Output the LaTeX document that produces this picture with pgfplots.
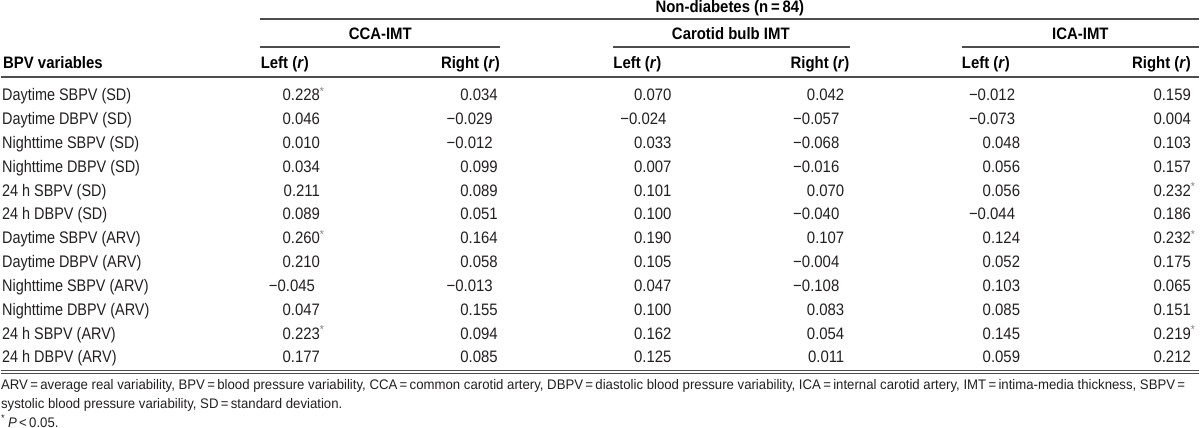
\documentclass[border=0pt]{standalone}
\usepackage{pgfplots}
\usepackage{pgfplotstable}
\pgfplotsset{compat=1.18}
\usepackage{fontspec}
\setmainfont{Liberation Sans}[FakeStretch=0.9]
\newfontfamily\fnfont{Liberation Sans}[FakeStretch=0.95]
\newfontfamily\lblfont{Liberation Sans}[FakeStretch=0.86]
\definecolor{txt}{HTML}{231F20}
\definecolor{rule}{HTML}{4D4D4D}
\newcommand\sigv[1]{#1\rlap{\textsuperscript{\color{gray}*}}}
\newcommand\negv[1]{−#1\kern2.5pt}

\pgfplotstableread{
label ccaL ccaR bulbL bulbR icaL icaR
{Daytime SBPV (SD)} \sigv{0.228} 0.034 0.070 0.042 \negv{0.012} 0.159
{Daytime DBPV (SD)} 0.046 \negv{0.029} \negv{0.024} \negv{0.057} \negv{0.073} 0.004
{Nighttime SBPV (SD)} 0.010 \negv{0.012} 0.033 \negv{0.068} 0.048 0.103
{Nighttime DBPV (SD)} 0.034 0.099 0.007 \negv{0.016} 0.056 0.157
{24 h SBPV (SD)} 0.211 0.089 0.101 0.070 0.056 \sigv{0.232}
{24 h DBPV (SD)} 0.089 0.051 0.100 \negv{0.040} \negv{0.044} 0.186
{Daytime SBPV (ARV)} \sigv{0.260} 0.164 0.190 0.107 0.124 \sigv{0.232}
{Daytime DBPV (ARV)} 0.210 0.058 0.105 \negv{0.004} 0.052 0.175
{Nighttime SBPV (ARV)} \negv{0.045} \negv{0.013} 0.047 \negv{0.108} 0.103 0.065
{Nighttime DBPV (ARV)} 0.047 0.155 0.100 0.083 0.085 0.151
{24 h SBPV (ARV)} \sigv{0.223} 0.094 0.162 0.054 0.145 \sigv{0.219}
{24 h DBPV (ARV)} 0.177 0.085 0.125 0.011 0.059 0.212
}\bpvtable

\pgfplotsset{
  nomark/.style={only marks, mark=text, text mark={}},
  txtplot/.style={nomark,
    point meta=explicit symbolic, nodes near coords,
    every node near coord/.append style={anchor=#1, inner sep=0pt, text=txt,
      font=\fontsize{8.3}{10}\selectfont}},
  lblplot/.style={nomark,
    point meta=explicit symbolic, nodes near coords,
    every node near coord/.append style={anchor=base west, inner sep=0pt, text=txt,
      font=\lblfont\fontsize{8.4}{10}\selectfont}},
  hdrplot/.style={nomark,
    point meta=explicit symbolic, nodes near coords,
    every node near coord/.append style={anchor=#1, inner sep=0pt, text=black,
      font=\fontsize{8.3}{10}\selectfont\bfseries}},
  fnplot/.style={nomark,
    point meta=explicit symbolic, nodes near coords,
    every node near coord/.append style={anchor=base west, inner sep=0pt, text=txt,
      font=\fnfont\fontsize{6.95}{8}\selectfont}},
  rl/.style={rule, line width=0.75pt, mark=none},
}

\begin{document}
\begin{tikzpicture}
\begin{axis}[width=600pt, height=222.5pt, scale only axis,
  xmin=0, xmax=1200, ymin=0, ymax=445, y dir=reverse,
  hide axis, clip=false]
% rules
\addplot[rl] coordinates {(260,22) (1200,22)};
\addplot[rl] coordinates {(260,50) (500,50)};
\addplot[rl] coordinates {(613,50) (850,50)};
\addplot[rl] coordinates {(962,50) (1200,50)};
\addplot[rl] coordinates {(0,80) (1200,80)};
\addplot[rule, line width=0.5pt, mark=none] coordinates {(0,373.5) (1200,373.5)};
\addplot[rule, line width=0.5pt, mark=none] coordinates {(0,377) (1200,377)};
% headers
\addplot[hdrplot=base] coordinates {(730,15) [{Non-diabetes (n\,=\,84)}] (380,43) [{CCA-IMT}] (731,43) [{Carotid bulb IMT}] (1081,43) [{ICA-IMT}]};
\addplot[hdrplot=base west] coordinates {(2,72) [{BPV variables}] (260,72) [{Left (\textit{r})}] (613,72) [{Left (\textit{r})}] (962,72) [{Left (\textit{r})}]};
\addplot[hdrplot=base east] coordinates {(500,72) [{Right (\textit{r})}] (850,72) [{Right (\textit{r})}] (1192,72) [{Right (\textit{r})}]};
% body
\addplot[lblplot] table[x expr=1, y expr={104+23.85*\coordindex}, meta=label] {\bpvtable};
\addplot[txtplot=base east] table[x expr=320, y expr={104+23.85*\coordindex}, meta=ccaL] {\bpvtable};
\addplot[txtplot=base east] table[x expr=498, y expr={104+23.85*\coordindex}, meta=ccaR] {\bpvtable};
\addplot[txtplot=base east] table[x expr=672, y expr={104+23.85*\coordindex}, meta=bulbL] {\bpvtable};
\addplot[txtplot=base east] table[x expr=845, y expr={104+23.85*\coordindex}, meta=bulbR] {\bpvtable};
\addplot[txtplot=base east] table[x expr=1021, y expr={104+23.85*\coordindex}, meta=icaL] {\bpvtable};
\addplot[txtplot=base east] table[x expr=1192, y expr={104+23.85*\coordindex}, meta=icaR] {\bpvtable};
% footnotes
\addplot[fnplot] coordinates {
 (0,393) [{ARV\,=\,average real variability, BPV\,=\,blood pressure variability, CCA\,=\,common carotid artery, DBPV\,=\,diastolic blood pressure variability, ICA\,=\,internal carotid artery, IMT\,=\,intima-media thickness, SBPV\,=}]
 (0,412) [{systolic blood pressure variability, SD\,=\,standard deviation.}]
 (0,431) [{\textsuperscript{*}\,\textit{P}\,<\,0.05.}]
};
\end{axis}
\end{tikzpicture}
\end{document}
